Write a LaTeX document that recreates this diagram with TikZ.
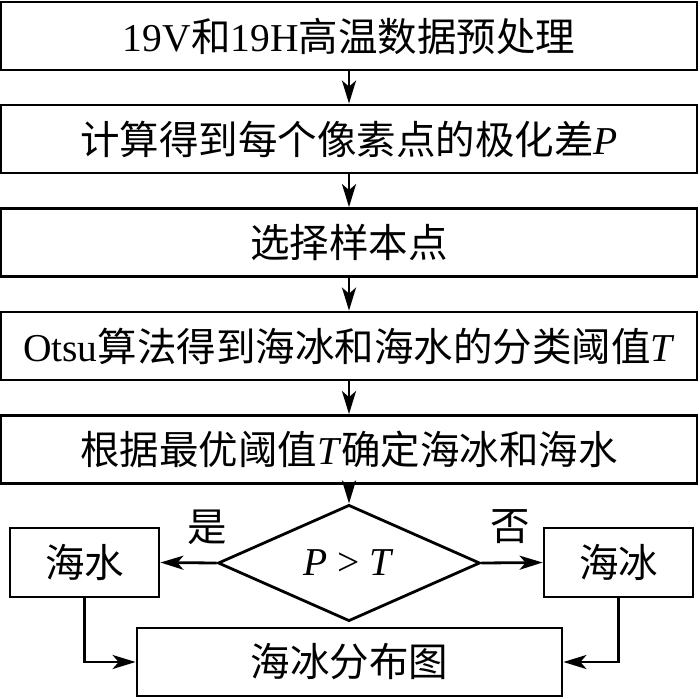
\documentclass[tikz,border=0pt]{standalone}
\usepackage{fontspec}
\setmainfont{Liberation Serif}
\newfontfamily\cjk{Noto Sans CJK SC}
\newcommand{\zhtxt}[1]{{\cjk #1}}
\usetikzlibrary{arrows.meta,shapes.geometric}
\begin{document}
\begin{tikzpicture}[x=1pt,y=-1pt,
  txt/.style={font=\fontsize{39.5}{39.5}\selectfont},
  box/.style={txt, draw, line width=2.8pt, rectangle, inner sep=0pt, minimum height=68pt},
  widebox/.style={box, minimum width=696pt},
  arr/.style={-{Stealth[length=23pt,width=14pt,inset=6pt]}, line width=2.8pt},
  lab/.style={txt, inner sep=0pt}]
\useasboundingbox (0,0) rectangle (700,698);
\node[widebox] (b1) at (349,36) {19V\zhtxt{和}19H\zhtxt{高温数据预处理}};
\node[widebox] (b2) at (349,139) {\zhtxt{计算得到每个像素点的极化差}\textit{P}};
\node[widebox] (b3) at (349,242.5) {\zhtxt{选择样本点}};
\node[widebox] (b4) at (349,346) {Otsu\zhtxt{算法得到海冰和海水的分类阈值}\textit{T}};
\node[widebox] (b5) at (349,449.5) {\zhtxt{根据最优阈值}\textit{T}\zhtxt{确定海冰和海水}};
\node[txt, draw, line width=2.8pt, diamond, inner sep=0pt, minimum width=262pt, minimum height=90pt] (d) at (349,563) {\textit{P} \textgreater{} \textit{T}};
\node[box, minimum width=149pt, minimum height=69pt] (sea) at (84.5,562.5) {\zhtxt{海水}};
\node[box, minimum width=149pt, minimum height=69pt] (ice) at (618.5,562.5) {\zhtxt{海冰}};
\node[box, minimum width=425pt] (map) at (349.5,662) {\zhtxt{海冰分布图}};
\node[lab] (yes) at (207,527) {\zhtxt{是}};
\node[lab] (no) at (510,527) {\zhtxt{否}};
\draw[arr] (b1) -- (b2);
\draw[arr] (b2) -- (b3);
\draw[arr] (b3) -- (b4);
\draw[arr] (b4) -- (b5);
\draw[arr] (b5) -- (d);
\draw[arr] (d.west) -- (sea.east);
\draw[arr] (d.east) -- (ice.west);
\draw[arr] (sea.south) |- (map.west);
\draw[arr] (ice.south) |- (map.east);
\end{tikzpicture}
\end{document}
